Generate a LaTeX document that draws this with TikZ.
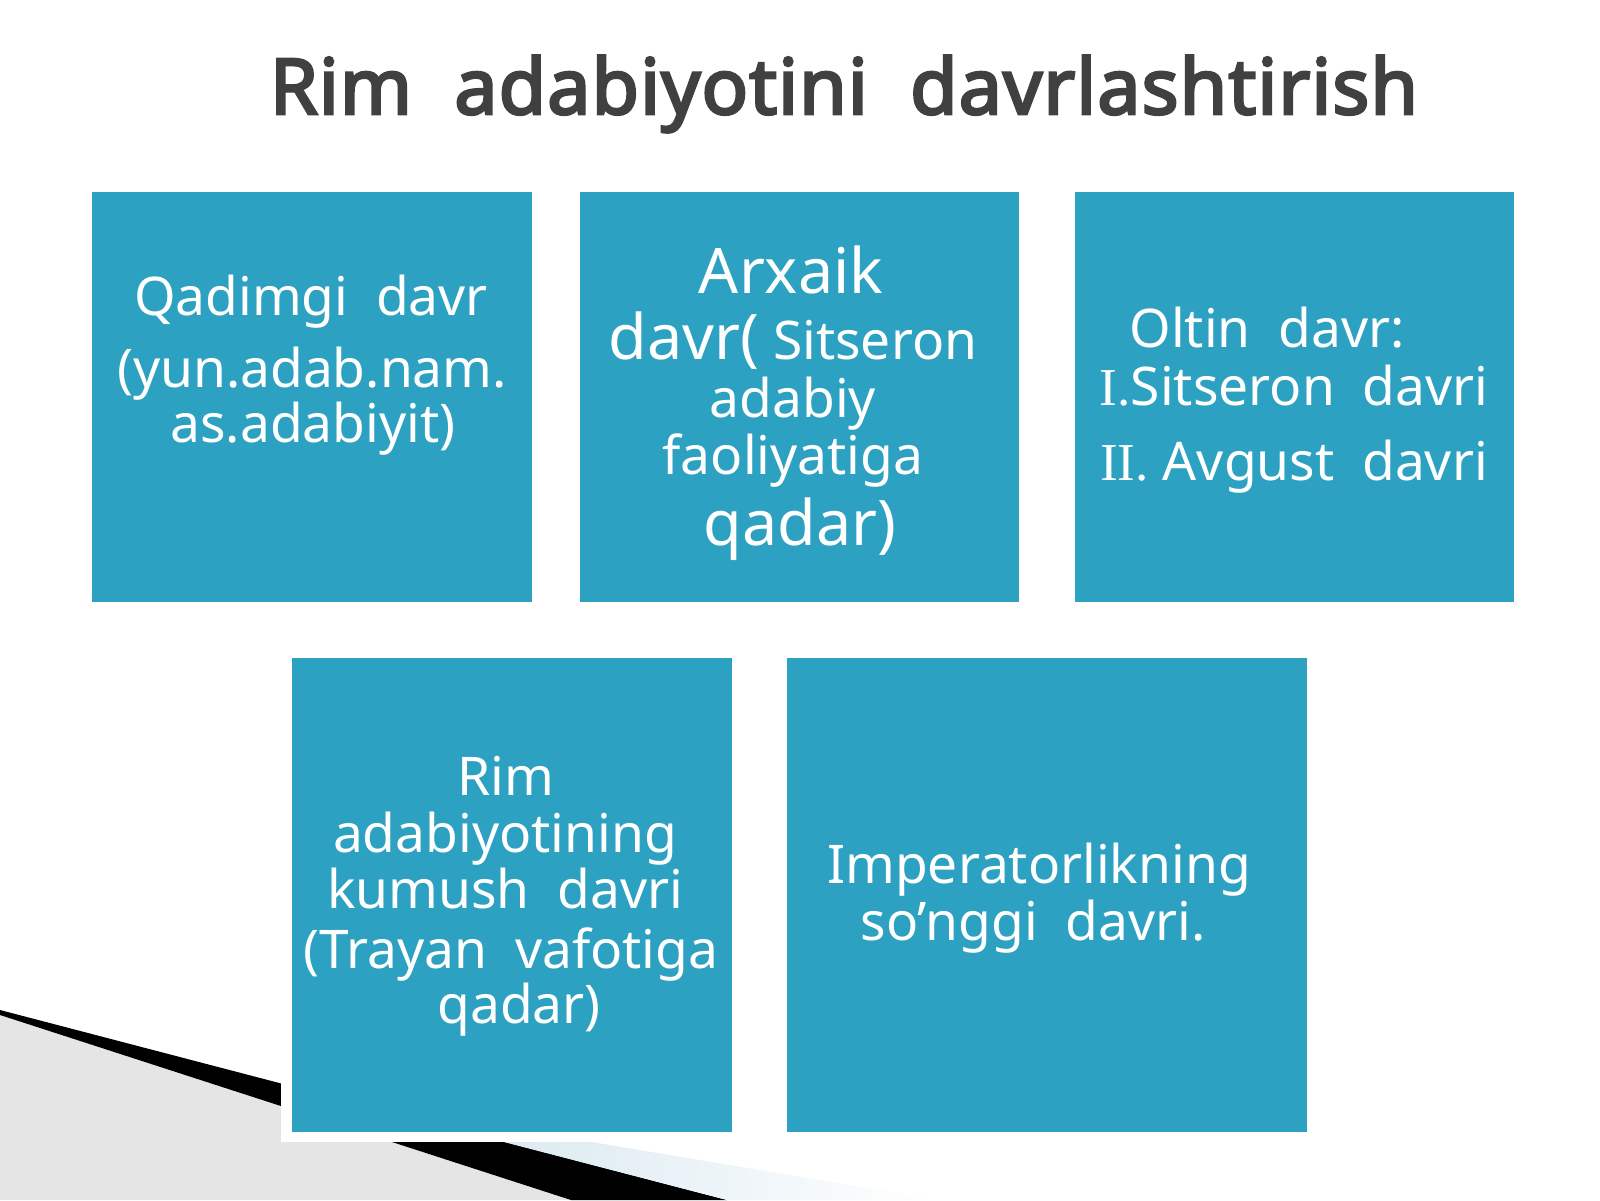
\documentclass[tikz,border=0pt]{standalone}
\usepackage{fontspec}
\setmainfont{Noto Sans}
\newfontfamily\titlefont{Noto Sans}[FakeBold=3.5, LetterSpace=1.5]
\newfontfamily\serifI{Liberation Serif}
\definecolor{boxblue}{HTML}{2DA1C1}
\definecolor{titlegray}{HTML}{404040}
\definecolor{texgray}{HTML}{E5E5E5}
\definecolor{wedgeblue}{HTML}{D3E5EE}
\newcommand{\fsz}[1]{\fontsize{#1}{#1}\selectfont}
\tikzset{
  panel/.style={draw=none, fill=boxblue, rectangle, inner sep=0pt, anchor=north west},
  txt/.style={text=white, anchor=base, inner sep=0pt, font=\fsz{53.3}},
  bigtxt/.style={txt, font=\fsz{62.8}},
}
\begin{document}
\begin{tikzpicture}[x=1pt,y=-1pt]
\useasboundingbox (0,0) rectangle (1600,1200);
\fill[white] (0,0) rectangle (1600,1200);
% bottom-left decoration
\fill[texgray] (0,1015) -- (571,1200) -- (0,1200) -- cycle;
\fill[black] (0,1010) -- (727,1200) -- (571,1200) -- (0,1015) -- cycle;
\shade[left color=wedgeblue, right color=white] (400,1110) -- (939,1200) -- (727,1200) -- (400,1115) -- cycle;
\fill[white] (281,1040) rectangle (742,1142);
% title
\node[text=titlegray, anchor=base, inner sep=0pt, font=\titlefont\fsz{77}] (title) at (844,114) {Rim~ adabiyotini~ davrlashtirish};
% panels
\node[panel, minimum width=440pt, minimum height=410pt] (b1) at (92,192) {};
\node[panel, minimum width=439pt, minimum height=410pt] (b2) at (580,192) {};
\node[panel, minimum width=439pt, minimum height=410pt] (b3) at (1075,192) {};
\node[panel, minimum width=440pt, minimum height=474pt] (b4) at (292,658) {};
\node[panel, minimum width=520pt, minimum height=474pt] (b5) at (787,658) {};
% box 1
\node[txt] (b1a) at (311,315) {Qadimgi~ davr};
\node[txt] (b1b) at (312,387) {(yun.adab.nam.};
\node[txt] (b1c) at (313,442) {as.adabiyit)};
% box 2
\node[bigtxt] (b2a) at (791,293) {Arxaik};
\node[txt] (b2b) at (793,359) {{\fsz{62.8}davr(} Sitseron};
\node[txt] (b2c) at (793,417) {adabiy};
\node[txt] (b2d) at (793,474) {faoliyatiga};
\node[bigtxt] (b2e) at (800,545) {qadar)};
% box 3
\node[txt] (b3a) at (1267,347) {Oltin~ davr:};
\node[txt] (b3b) at (1294,405) {{\serifI I.}Sitseron~ davri};
\node[txt] (b3c) at (1294,480) {{\serifI II.} Avgust~ davri};
% box 4
\node[txt] (b4a) at (506,795) {Rim};
\node[txt] (b4b) at (505,852) {adabiyotining};
\node[txt] (b4c) at (505,908) {kumush~ davri};
\node[txt] (b4d) at (511,968) {(Trayan~ vafotiga};
\node[txt] (b4e) at (519,1023) {qadar)};
% box 5
\node[txt] (b5a) at (1039,883) {Imperatorlikning};
\node[txt] (b5b) at (1033,940) {so’nggi~ davri.};
\end{tikzpicture}
\end{document}
